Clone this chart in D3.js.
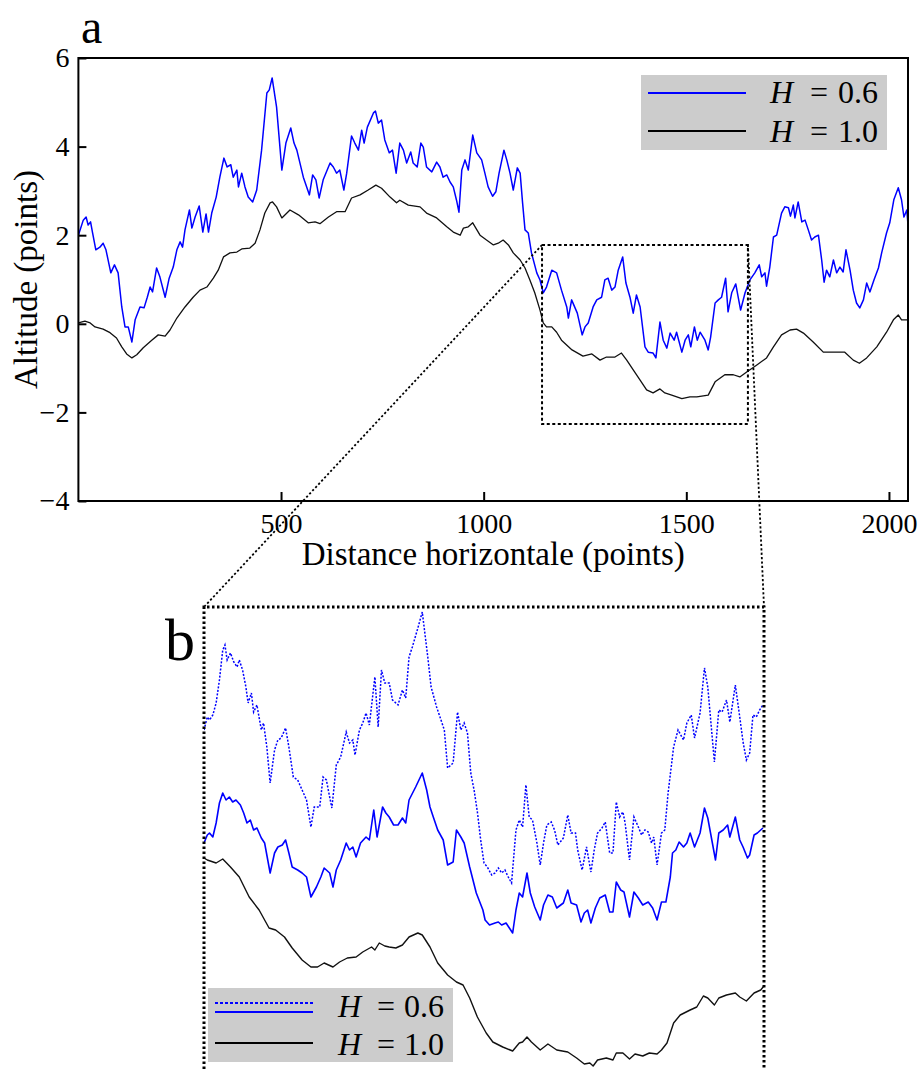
<!DOCTYPE html>
<html><head><meta charset="utf-8">
<script src="https://cdn.jsdelivr.net/npm/d3@7"></script>
<style>
body{margin:0;background:#fff}
svg{display:block}
text, tspan{font-family:"Liberation Serif","Times New Roman",serif !important;fill:#000}
</style>
</head><body>
<svg id="c" width="920" height="1069" font-family="Liberation Serif, serif"></svg>
<script>
// ---------- data (distance in points, altitude in points) ----------
const blueA = [[0,2.00],[12,2.34],[19,2.41],[24,2.23],[30,2.30],[35,2.05],[43,1.67],[53,1.73],[61,1.82],[68,1.67],[80,1.15],[89,1.33],[98,1.15],[107,0.38],[115,-0.07],[123,-0.07],[132,-0.41],[140,0.09],[152,0.38],[162,0.36],[170,0.60],[177,0.83],[183,0.72],[193,1.26],[201,1.06],[214,0.60],[224,1.03],[234,1.28],[243,1.67],[251,1.85],[257,1.73],[263,2.12],[274,2.57],[280,2.16],[288,2.41],[298,2.66],[307,2.07],[315,2.48],[321,2.07],[329,2.50],[340,2.86],[349,3.31],[359,3.74],[367,3.54],[376,3.59],[382,3.31],[391,3.47],[395,3.09],[403,3.40],[411,3.09],[419,2.86],[430,2.75],[440,3.02],[452,3.92],[465,5.21],[471,5.28],[478,5.55],[489,4.89],[502,3.47],[512,4.08],[524,4.42],[532,4.08],[539,3.92],[555,3.31],[570,2.91],[578,3.36],[586,3.25],[594,2.84],[604,3.25],[621,3.63],[629,3.54],[637,3.40],[645,3.47],[655,3.02],[662,3.40],[674,4.24],[682,4.08],[691,3.92],[699,4.37],[705,4.08],[713,4.44],[728,4.76],[733,4.80],[740,4.53],[748,4.60],[756,4.15],[767,3.86],[775,3.92],[784,3.40],[793,4.08],[802,3.92],[810,3.63],[820,3.88],[826,3.63],[836,3.54],[845,4.08],[851,3.99],[859,3.54],[872,3.43],[884,3.65],[892,3.54],[900,3.31],[909,3.36],[917,3.20],[925,3.09],[933,2.79],[939,2.52],[946,3.47],[954,3.70],[962,3.47],[973,4.26],[983,3.86],[995,3.70],[1003,3.40],[1011,3.09],[1022,2.88],[1030,2.98],[1038,3.40],[1050,3.92],[1057,3.70],[1065,3.40],[1073,3.02],[1083,3.52],[1090,3.40],[1096,2.73],[1102,2.12],[1110,2.05],[1118,1.60],[1131,1.15],[1139,0.99],[1147,0.70],[1155,0.83],[1168,1.21],[1180,1.15],[1192,0.76],[1205,0.38],[1209,0.13],[1217,0.54],[1231,0.24],[1243,-0.25],[1250,-0.07],[1258,0.02],[1270,0.38],[1279,0.54],[1291,0.60],[1299,0.99],[1307,1.03],[1316,0.76],[1324,0.83],[1332,1.21],[1343,1.51],[1351,0.92],[1361,0.60],[1369,0.24],[1377,0.65],[1386,0.38],[1398,-0.52],[1406,-0.64],[1418,-0.66],[1425,-0.77],[1435,0.04],[1443,-0.37],[1452,-0.55],[1460,-0.21],[1470,-0.37],[1476,-0.19],[1489,-0.64],[1497,-0.37],[1505,-0.25],[1511,-0.52],[1520,-0.07],[1527,-0.37],[1534,-0.19],[1546,-0.37],[1554,-0.59],[1560,-0.30],[1571,0.47],[1579,0.54],[1587,0.60],[1597,1.03],[1603,0.27],[1612,0.70],[1622,0.90],[1628,0.60],[1634,0.31],[1645,0.70],[1657,0.99],[1669,1.15],[1680,1.33],[1686,1.06],[1694,1.15],[1698,0.85],[1706,1.28],[1715,1.96],[1723,2.00],[1735,2.50],[1743,2.64],[1752,2.62],[1757,2.43],[1764,2.68],[1768,2.39],[1776,2.75],[1785,2.30],[1793,2.34],[1801,2.12],[1809,1.89],[1817,1.96],[1826,2.00],[1834,1.44],[1840,0.94],[1846,1.21],[1854,1.06],[1863,1.44],[1871,1.15],[1879,1.28],[1887,1.17],[1894,1.67],[1904,1.21],[1912,0.76],[1920,0.47],[1928,0.36],[1937,0.54],[1945,0.92],[1953,0.72],[1963,0.99],[1974,1.26],[1982,1.60],[1994,2.05],[2002,2.28],[2012,2.80],[2023,3.07],[2031,2.80],[2037,2.41],[2044,2.57],[2047,2.23]];

const blackA = [[0,0.02],[16,0.06],[29,0.02],[41,-0.07],[61,-0.12],[78,-0.20],[94,-0.32],[107,-0.52],[119,-0.68],[132,-0.77],[144,-0.70],[160,-0.54],[181,-0.37],[197,-0.25],[214,-0.28],[226,-0.14],[243,0.13],[263,0.38],[283,0.60],[300,0.76],[317,0.83],[333,1.03],[345,1.21],[358,1.51],[374,1.60],[391,1.62],[403,1.69],[423,1.71],[436,1.82],[448,2.12],[460,2.50],[473,2.73],[479,2.75],[489,2.64],[502,2.39],[522,2.57],[543,2.46],[567,2.28],[584,2.30],[596,2.26],[617,2.41],[637,2.53],[658,2.53],[674,2.84],[695,2.91],[715,3.02],[734,3.13],[748,3.06],[769,2.86],[785,2.73],[793,2.79],[814,2.68],[843,2.64],[859,2.50],[884,2.39],[909,2.19],[925,2.07],[942,2.00],[950,2.16],[962,2.19],[973,2.28],[991,2.00],[1007,1.89],[1024,1.78],[1036,1.82],[1048,1.89],[1061,1.78],[1073,1.60],[1090,1.44],[1102,1.26],[1114,0.99],[1126,0.70],[1139,0.31],[1147,0.02],[1155,-0.07],[1168,-0.07],[1180,-0.19],[1192,-0.37],[1218,-0.59],[1245,-0.73],[1267,-0.68],[1287,-0.82],[1303,-0.75],[1324,-0.75],[1340,-0.66],[1353,-0.82],[1369,-1.04],[1386,-1.27],[1402,-1.49],[1418,-1.56],[1435,-1.47],[1447,-1.56],[1464,-1.61],[1489,-1.69],[1509,-1.65],[1526,-1.65],[1554,-1.61],[1571,-1.31],[1595,-1.15],[1616,-1.15],[1632,-1.20],[1649,-1.09],[1674,-0.93],[1698,-0.77],[1715,-0.52],[1735,-0.25],[1756,-0.14],[1772,-0.12],[1789,-0.21],[1813,-0.41],[1838,-0.64],[1863,-0.64],[1891,-0.64],[1912,-0.82],[1927,-0.89],[1945,-0.77],[1970,-0.52],[1994,-0.19],[2011,0.09],[2023,0.20],[2031,0.09],[2047,0.09]];

// panel b (zoom of 1144..1652), vertical units of the inset
const dottedB = [[1144,2.18],[1147,2.44],[1149,2.38],[1152,2.48],[1155,2.72],[1158,3.18],[1161,3.78],[1163,3.88],[1165,3.58],[1168,3.72],[1171,3.54],[1174,3.44],[1176,3.58],[1179,3.38],[1182,3.04],[1184,2.72],[1187,2.92],[1189,2.54],[1192,2.68],[1196,2.18],[1198,2.32],[1201,1.84],[1204,1.12],[1208,1.78],[1211,1.98],[1214,2.02],[1216,2.12],[1218,2.22],[1221,1.84],[1225,1.24],[1229,1.18],[1233,0.98],[1237,0.78],[1241,0.24],[1244,0.64],[1249,0.64],[1252,1.24],[1255,1.18],[1258,0.84],[1260,0.62],[1264,1.48],[1268,1.64],[1273,2.14],[1276,1.92],[1279,1.98],[1281,1.68],[1285,2.18],[1288,2.32],[1291,2.52],[1294,2.28],[1299,3.24],[1302,2.24],[1305,3.38],[1308,3.12],[1312,3.12],[1315,2.78],[1320,2.68],[1324,2.98],[1327,2.82],[1330,3.64],[1333,3.84],[1338,4.22],[1342,4.54],[1347,3.64],[1350,3.04],[1355,2.64],[1359,2.38],[1362,2.18],[1365,1.42],[1370,1.52],[1374,2.54],[1377,2.18],[1380,2.32],[1383,2.12],[1386,1.32],[1389,0.98],[1392,0.54],[1395,-0.02],[1398,-0.48],[1401,-0.56],[1405,-0.72],[1408,-0.68],[1411,-0.58],[1414,-0.68],[1417,-0.62],[1420,-0.76],[1423,-0.88],[1427,0.18],[1430,0.38],[1433,0.24],[1436,1.08],[1439,0.44],[1442,0.38],[1446,-0.08],[1449,-0.52],[1452,-0.08],[1455,0.28],[1459,0.34],[1462,0.18],[1465,-0.12],[1470,0.02],[1474,0.48],[1477,0.12],[1481,0.12],[1483,-0.22],[1487,-0.62],[1491,-0.16],[1495,-0.66],[1498,-0.22],[1501,0.12],[1505,0.22],[1508,0.34],[1512,-0.28],[1515,-0.28],[1518,0.74],[1521,0.44],[1524,0.54],[1526,0.32],[1530,-0.42],[1534,0.44],[1538,0.24],[1541,0.08],[1544,0.18],[1547,0.14],[1550,-0.08],[1552,0.04],[1555,-0.52],[1559,0.12],[1562,0.18],[1565,0.92],[1570,1.84],[1574,2.18],[1579,1.98],[1582,2.32],[1586,2.48],[1589,2.02],[1594,2.52],[1598,3.42],[1601,3.04],[1607,1.54],[1611,2.58],[1614,2.54],[1618,2.78],[1621,2.34],[1626,3.08],[1630,2.44],[1633,1.94],[1636,1.58],[1639,1.72],[1642,2.48],[1645,2.44],[1648,2.58],[1651,2.68]];

const blueB = [[1144,-0.08],[1147,0.08],[1149,0.12],[1152,0.04],[1155,0.32],[1158,0.72],[1161,0.92],[1164,0.78],[1167,0.84],[1170,0.74],[1173,0.78],[1177,0.68],[1180,0.52],[1183,0.32],[1186,0.38],[1189,0.18],[1192,0.22],[1196,0.02],[1199,-0.08],[1204,-0.68],[1208,-0.28],[1211,-0.16],[1215,-0.12],[1218,-0.02],[1221,-0.28],[1224,-0.56],[1229,-0.62],[1233,-0.68],[1237,-0.76],[1241,-1.16],[1246,-0.96],[1250,-0.76],[1253,-0.58],[1258,-0.68],[1261,-0.96],[1264,-0.62],[1268,-0.42],[1273,-0.08],[1276,-0.22],[1279,-0.16],[1282,-0.36],[1286,-0.08],[1291,0.04],[1294,-0.02],[1298,0.58],[1301,0.04],[1306,0.64],[1309,0.52],[1312,0.44],[1316,0.28],[1320,0.28],[1324,0.42],[1327,0.32],[1330,0.78],[1336,1.04],[1339,1.18],[1342,1.32],[1346,0.98],[1349,0.64],[1352,0.44],[1356,0.18],[1361,-0.02],[1365,-0.52],[1370,-0.46],[1373,0.18],[1377,0.04],[1380,-0.08],[1385,-0.56],[1391,-1.08],[1397,-1.42],[1399,-1.62],[1403,-1.72],[1408,-1.68],[1411,-1.66],[1414,-1.72],[1418,-1.68],[1421,-1.78],[1424,-1.88],[1427,-1.42],[1430,-1.08],[1433,-1.16],[1437,-0.68],[1440,-1.08],[1444,-1.36],[1449,-1.62],[1452,-1.32],[1456,-1.12],[1460,-1.16],[1464,-1.38],[1470,-1.28],[1474,-1.02],[1477,-1.28],[1482,-1.32],[1486,-1.66],[1489,-1.48],[1492,-1.42],[1495,-1.68],[1499,-1.38],[1503,-1.18],[1508,-1.12],[1512,-1.46],[1515,-1.46],[1518,-0.86],[1522,-1.02],[1525,-1.06],[1530,-1.56],[1534,-1.06],[1538,-1.18],[1542,-1.32],[1547,-1.26],[1551,-1.38],[1555,-1.62],[1559,-1.26],[1563,-1.26],[1567,-0.76],[1569,-0.28],[1572,-0.22],[1575,-0.06],[1579,-0.16],[1582,-0.08],[1585,0.12],[1589,-0.16],[1594,0.12],[1598,0.62],[1601,0.42],[1608,-0.42],[1611,0.12],[1615,0.18],[1619,0.28],[1621,0.04],[1626,0.44],[1630,-0.02],[1633,-0.16],[1637,-0.38],[1639,-0.32],[1643,0.08],[1646,0.12],[1651,0.22]];

const blackB = [[1144,-0.38],[1147,-0.42],[1155,-0.48],[1161,-0.40],[1168,-0.56],[1176,-0.76],[1185,-1.16],[1194,-1.42],[1203,-1.78],[1209,-1.82],[1217,-1.96],[1224,-2.18],[1233,-2.42],[1241,-2.56],[1247,-2.56],[1253,-2.48],[1261,-2.56],[1267,-2.46],[1274,-2.38],[1282,-2.36],[1288,-2.26],[1296,-2.16],[1299,-2.22],[1303,-2.08],[1308,-2.14],[1312,-2.16],[1318,-2.18],[1324,-2.12],[1330,-1.96],[1338,-1.88],[1342,-1.92],[1349,-2.16],[1356,-2.48],[1365,-2.72],[1373,-2.86],[1379,-2.92],[1385,-3.18],[1392,-3.56],[1400,-3.88],[1406,-4.06],[1415,-4.16],[1424,-4.24],[1430,-4.08],[1433,-4.06],[1437,-3.96],[1441,-4.06],[1449,-4.22],[1456,-4.10],[1464,-4.22],[1474,-4.26],[1482,-4.38],[1489,-4.50],[1494,-4.48],[1497,-4.54],[1501,-4.42],[1509,-4.38],[1515,-4.42],[1518,-4.28],[1524,-4.28],[1530,-4.40],[1535,-4.30],[1542,-4.34],[1548,-4.28],[1555,-4.30],[1559,-4.22],[1564,-4.08],[1570,-3.68],[1576,-3.52],[1585,-3.42],[1591,-3.36],[1597,-3.14],[1601,-3.18],[1607,-3.32],[1611,-3.18],[1618,-3.12],[1626,-3.08],[1630,-3.16],[1636,-3.24],[1643,-3.08],[1649,-3.02],[1652,-2.94]];

const xTickValues = [500, 1000, 1500, 2000];
const yTickValues = [-4, -2, 0, 2, 4, 6];
const zoomDist = [1144, 1652];
const zoomAlt = [-2.26, 1.78];
const hValues = ["0.6", "1.0"];
const xLabel = "Distance horizontale (points)";
const yLabel = "Altitude (points)";

// ---------- drawing ----------
const FONT = '"Liberation Serif","Times New Roman",serif';
const svg = d3.select("#c");
const BLUE = "#0000ff";

// panel a scales
const xA = d3.scaleLinear().domain([0, 2047]).range([78.4, 908]);
const yA = d3.scaleLinear().domain([-4, 6]).range([501, 58]);
// panel b scales
const xB = d3.scaleLinear().domain(zoomDist).range([204, 764]);
const yB = d3.scaleLinear().domain([-4.6, 4.6]).range([1069, 609]);
const bTop = 607;

const defs = svg.append("defs");
defs.append("clipPath").attr("id","clipA").append("rect")
  .attr("x", xA.range()[0]).attr("y", yA.range()[1])
  .attr("width", xA.range()[1]-xA.range()[0]).attr("height", yA.range()[0]-yA.range()[1]);
defs.append("clipPath").attr("id","clipB").append("rect")
  .attr("x", xB.range()[0]).attr("y", bTop)
  .attr("width", xB.range()[1]-xB.range()[0]).attr("height", 1069-bTop);

const lineA = d3.line().x(d=>xA(d[0])).y(d=>yA(d[1]));
const lineB = d3.line().x(d=>xB(d[0])).y(d=>yB(d[1]));

// panel a curves
const gA = svg.append("g").attr("clip-path","url(#clipA)");
gA.append("path").datum(blackA).attr("d", lineA).attr("fill","none")
  .attr("stroke","#111").attr("stroke-width",1.3).attr("stroke-linejoin","round");
gA.append("path").datum(blueA).attr("d", lineA).attr("fill","none")
  .attr("stroke",BLUE).attr("stroke-width",1.5).attr("stroke-linejoin","round");

// axes
const fontTick = 28;
const ax = svg.append("g").attr("transform",`translate(0,${yA.range()[0]})`)
  .call(d3.axisBottom(xA).tickValues(xTickValues).tickFormat(d3.format("d"))
    .tickSizeInner(-9).tickSizeOuter(0).tickPadding(12));
const ay = svg.append("g").attr("transform",`translate(${xA.range()[0]},0)`)
  .call(d3.axisLeft(yA).tickValues(yTickValues).tickFormat(d3.format("d"))
    .tickSizeInner(-8).tickSizeOuter(0).tickPadding(9));
[ax, ay].forEach(g=>{
  g.attr("font-family", FONT).attr("font-size", fontTick);
  g.select(".domain").remove();
  g.selectAll(".tick line").attr("stroke","#000").attr("stroke-width",2);
  g.selectAll(".tick text").attr("font-family", FONT).attr("font-size",fontTick).attr("fill","#000");
});
// frame
svg.append("rect").attr("x", xA.range()[0]).attr("y", yA.range()[1])
  .attr("width", xA.range()[1]-xA.range()[0]).attr("height", yA.range()[0]-yA.range()[1])
  .attr("fill","none").attr("stroke","#000").attr("stroke-width",2);

// axis labels
svg.append("text").attr("x",(xA.range()[0]+xA.range()[1])/2).attr("y",565)
  .attr("text-anchor","middle").attr("font-size",33).attr("font-family",FONT).text(xLabel);
svg.append("text").attr("transform",`translate(37,${(yA.range()[0]+yA.range()[1])/2}) rotate(-90)`)
  .attr("text-anchor","middle").attr("font-size",33).attr("font-family",FONT).text(yLabel);

// panel letters
svg.append("text").attr("x",81).attr("y",43).attr("font-size",48).attr("font-family",FONT).text("a");
svg.append("text").attr("x",165).attr("y",660).attr("font-size",60).attr("font-family",FONT).text("b");

// legend a
const legA = svg.append("g").attr("font-family",FONT);
legA.append("rect").attr("x",641).attr("y",75).attr("width",246).attr("height",75).attr("fill","#cccccc");
[[BLUE, 93, 103], ["#000", 131, 142]].forEach((c,i)=>{
  legA.append("line").attr("x1",648).attr("x2",746).attr("y1",c[1]).attr("y2",c[1])
    .attr("stroke",c[0]).attr("stroke-width",2);
  const t = legA.append("text").attr("y",c[2]).attr("font-size",32).attr("font-family",FONT);
  t.append("tspan").attr("x",770).attr("font-style","italic").text("H");
  t.append("tspan").attr("x",810).text("=");
  t.append("tspan").attr("x",838).text(hValues[i]);
});

// zoom rectangle in a
svg.append("rect").attr("x",xA(zoomDist[0])).attr("y",yA(zoomAlt[1]))
  .attr("width",xA(zoomDist[1])-xA(zoomDist[0])).attr("height",yA(zoomAlt[0])-yA(zoomAlt[1]))
  .attr("fill","none").attr("stroke","#000").attr("stroke-width",2).attr("stroke-dasharray","3,2.5");

// connectors
zoomDist.forEach(d=>{
  svg.append("line").attr("x1",xA(d)).attr("y1",yA(zoomAlt[1]))
    .attr("x2",xB(d)).attr("y2",bTop)
    .attr("stroke","#000").attr("stroke-width",1.8).attr("stroke-dasharray","2.2,2.2");
});

// panel b curves
const gB = svg.append("g").attr("clip-path","url(#clipB)");
gB.append("path").datum(blackB).attr("d", lineB).attr("fill","none")
  .attr("stroke","#111").attr("stroke-width",1.4).attr("stroke-linejoin","round");
gB.append("path").datum(blueB).attr("d", lineB).attr("fill","none")
  .attr("stroke",BLUE).attr("stroke-width",1.6).attr("stroke-linejoin","round");
gB.append("path").datum(dottedB).attr("d", lineB).attr("fill","none")
  .attr("stroke",BLUE).attr("stroke-width",1.5).attr("stroke-dasharray","2,1.6");

// panel b frame (top, left, right)
const bf = svg.append("g").attr("stroke","#000").attr("stroke-width",3).attr("stroke-dasharray","2.5,2.5").attr("fill","none");
bf.append("path").attr("d",`M${xB.range()[0]},1069 V${bTop} H${xB.range()[1]} V1069`);

// legend b
const legB = svg.append("g").attr("font-family",FONT);
legB.append("rect").attr("x",208).attr("y",988).attr("width",245).attr("height",74).attr("fill","#cccccc");
legB.append("line").attr("x1",215).attr("x2",313).attr("y1",1003).attr("y2",1003)
  .attr("stroke",BLUE).attr("stroke-width",2).attr("stroke-dasharray","3,2");
legB.append("line").attr("x1",215).attr("x2",313).attr("y1",1012).attr("y2",1012)
  .attr("stroke",BLUE).attr("stroke-width",2);
legB.append("line").attr("x1",215).attr("x2",313).attr("y1",1043).attr("y2",1043)
  .attr("stroke","#000").attr("stroke-width",2);
[1017, 1055].forEach((yy,i)=>{
  const t = legB.append("text").attr("y",yy).attr("font-size",32).attr("font-family",FONT);
  t.append("tspan").attr("x",338).attr("font-style","italic").text("H");
  t.append("tspan").attr("x",377).text("=");
  t.append("tspan").attr("x",404).text(hValues[i]);
});
</script>
</body></html>
